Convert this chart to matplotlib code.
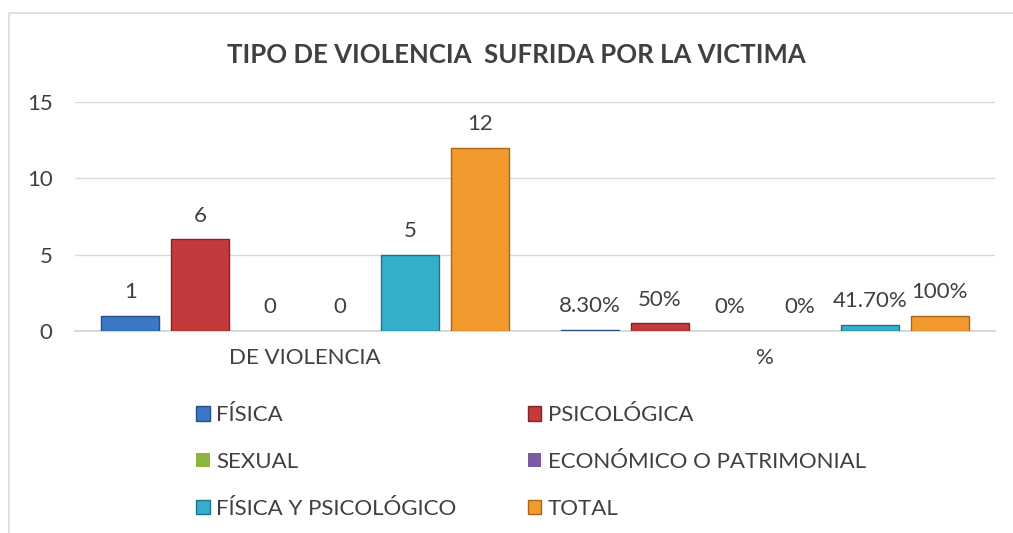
import matplotlib.pyplot as plt
from matplotlib.patches import Rectangle

categories = ['DE VIOLENCIA', '%']
series = ['FÍSICA', 'PSICOLÓGICA', 'SEXUAL', 'ECONÓMICO O PATRIMONIAL',
          'FÍSICA Y PSICOLÓGICO', 'TOTAL']
counts = [1, 6, 0, 0, 5, 12]
shares = [0.083, 0.5, 0, 0, 0.417, 1.0]
share_labels = ['8.30%', '50%', '0%', '0%', '41.70%', '100%']

colors = ['#3b78c6', '#c43a3c', '#8db640', '#7b5ba1', '#33aecb', '#f39a2f']
edges = ['#254f86', '#852224', '#5d7a26', '#503a6b', '#1f7487', '#a8661a']

plt.rcParams['font.family'] = ['Lato', 'DejaVu Sans']

fig = plt.figure(figsize=(10.13, 5.33), dpi=100)
fig.patches.append(Rectangle((0.009, -0.01), 1.0, 0.986, transform=fig.transFigure,
                             fill=False, edgecolor='#d9d9d9', linewidth=1.2))
ax = fig.add_axes([0.074, 0.379, 0.908, 0.4296])

pitch = 0.152
width = 0.126
for i, name in enumerate(series):
    off = (i - 2.5) * pitch
    vals = [counts[i], shares[i]]
    lw = [1 if v > 0 else 0 for v in vals]
    ax.bar([0 + off, 1 + off], vals, width=width, color=colors[i],
           edgecolor=edges[i], linewidth=lw, label=name, zorder=3)
    ax.text(0 + off, counts[i] + 1.55, str(counts[i]), ha='center', va='center',
            fontsize=16, color='#404040')
    ax.text(1 + off, shares[i] + 1.55, share_labels[i], ha='center', va='center',
            fontsize=16, color='#404040')

ax.set_xlim(-0.5, 1.5)
ax.set_ylim(0, 15)
ax.set_yticks([0, 5, 10, 15])
ax.set_xticks([0, 1])
ax.set_xticklabels(categories)
ax.tick_params(axis='both', length=0, labelsize=16, labelcolor='#404040')
ax.tick_params(axis='x', pad=12)
ax.tick_params(axis='y', pad=16)
ax.grid(axis='y', color='#d9d9d9', linewidth=1, zorder=0)
for s in ['top', 'right', 'left']:
    ax.spines[s].set_visible(False)
ax.spines['bottom'].set_color('#d9d9d9')
ax.spines['bottom'].set_linewidth(1.5)

fig.text(0.51, 0.897, 'TIPO DE VIOLENCIA  SUFRIDA POR LA VICTIMA', ha='center',
         va='center', fontsize=18.5, fontweight='bold', color='#404040')

handles, labels = ax.get_legend_handles_labels()
order = [0, 2, 4, 1, 3, 5]
leg = fig.legend([handles[k] for k in order], [labels[k] for k in order],
                 ncol=2, loc='upper left', bbox_to_anchor=(0.174, 0.277),
                 frameon=False, fontsize=16, handlelength=0.6, handleheight=0.6,
                 handletextpad=0.3, columnspacing=3.2, labelspacing=1.2,
                 labelcolor='#404040')

fig.savefig('out.png', dpi=100)
